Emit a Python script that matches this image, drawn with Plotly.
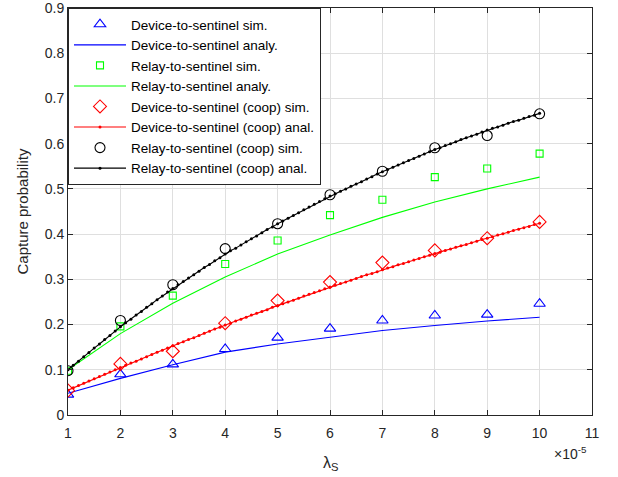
import plotly.graph_objects as go

lam = [1, 2, 3, 4, 5, 6, 7, 8, 9, 10]
lam_fine = [round(1 + 0.1 * i, 1) for i in range(91)]

dev_sim = [0.045, 0.090, 0.112, 0.146, 0.171, 0.191, 0.209, 0.220, 0.222, 0.246]
dev_ana = [0.048, 0.081, 0.111, 0.139, 0.157, 0.172, 0.187, 0.198, 0.208, 0.216]
rel_sim = [0.098, 0.196, 0.264, 0.334, 0.386, 0.442, 0.476, 0.526, 0.545, 0.578]
rel_ana = [0.100, 0.180, 0.247, 0.305, 0.356, 0.398, 0.437, 0.471, 0.500, 0.526]
devc_sim = [0.054, 0.113, 0.141, 0.203, 0.253, 0.294, 0.337, 0.364, 0.391, 0.427]
devc_ana = [
    0.055, 0.060, 0.065, 0.070, 0.075, 0.080, 0.085, 0.090, 0.095, 0.100,
    0.105, 0.110, 0.115, 0.119, 0.124, 0.129, 0.134, 0.139, 0.143, 0.148,
    0.153, 0.158, 0.162, 0.167, 0.171, 0.176, 0.181, 0.185, 0.190, 0.194,
    0.199, 0.203, 0.208, 0.212, 0.216, 0.221, 0.225, 0.229, 0.233, 0.238,
    0.242, 0.246, 0.250, 0.254, 0.258, 0.263, 0.267, 0.271, 0.275, 0.279,
    0.283, 0.287, 0.291, 0.294, 0.298, 0.302, 0.306, 0.310, 0.313, 0.317,
    0.321, 0.325, 0.328, 0.332, 0.335, 0.339, 0.343, 0.346, 0.350, 0.353,
    0.357, 0.360, 0.364, 0.367, 0.371, 0.374, 0.377, 0.381, 0.384, 0.388,
    0.391, 0.394, 0.398, 0.401, 0.404, 0.408, 0.411, 0.414, 0.417, 0.421,
    0.424,
]
relc_sim = [0.098, 0.209, 0.288, 0.368, 0.423, 0.487, 0.539, 0.591, 0.618, 0.666]
relc_ana = [
    0.100, 0.110, 0.119, 0.129, 0.138, 0.148, 0.157, 0.167, 0.176, 0.186,
    0.195, 0.204, 0.212, 0.221, 0.229, 0.238, 0.246, 0.255, 0.263, 0.272,
    0.280, 0.288, 0.295, 0.303, 0.310, 0.318, 0.326, 0.333, 0.341, 0.348,
    0.356, 0.363, 0.369, 0.376, 0.383, 0.390, 0.396, 0.403, 0.410, 0.416,
    0.423, 0.429, 0.435, 0.441, 0.447, 0.454, 0.460, 0.466, 0.472, 0.478,
    0.484, 0.489, 0.495, 0.500, 0.506, 0.511, 0.516, 0.522, 0.527, 0.533,
    0.538, 0.543, 0.548, 0.553, 0.558, 0.563, 0.567, 0.572, 0.577, 0.582,
    0.587, 0.591, 0.596, 0.600, 0.604, 0.609, 0.613, 0.617, 0.621, 0.626,
    0.630, 0.634, 0.637, 0.641, 0.645, 0.649, 0.652, 0.656, 0.660, 0.663,
    0.667,
]

x_ticks = [1, 2, 3, 4, 5, 6, 7, 8, 9, 10, 11]
y_ticks = [0, 0.1, 0.2, 0.3, 0.4, 0.5, 0.6, 0.7, 0.8, 0.9]
y_tick_text = ["0", "0.1", "0.2", "0.3", "0.4", "0.5", "0.6", "0.7", "0.8", "0.9"]

BLUE, GREEN, RED, BLACK = "#0000ff", "#00ff00", "#ff0000", "#000000"
AX = "#262626"

fig = go.Figure()
fig.add_trace(go.Scatter(x=lam, y=dev_sim, mode="markers", name="Device-to-sentinel sim.",
                         marker=dict(symbol="triangle-up-open", size=10, color=BLUE, line=dict(width=1.1, color=BLUE))))
fig.add_trace(go.Scatter(x=lam, y=dev_ana, mode="lines", name="Device-to-sentinel analy.",
                         line=dict(color=BLUE, width=1.1)))
fig.add_trace(go.Scatter(x=lam, y=rel_sim, mode="markers", name="Relay-to-sentinel sim.",
                         marker=dict(symbol="square-open", size=7, color=GREEN, line=dict(width=1.1, color=GREEN))))
fig.add_trace(go.Scatter(x=lam, y=rel_ana, mode="lines", name="Relay-to-sentinel analy.",
                         line=dict(color=GREEN, width=1.1)))
fig.add_trace(go.Scatter(x=lam, y=devc_sim, mode="markers", name="Device-to-sentinel (coop) sim.",
                         marker=dict(symbol="diamond-open", size=10, color=RED, line=dict(width=1.1, color=RED))))
fig.add_trace(go.Scatter(x=lam_fine, y=devc_ana, mode="lines+markers", name="Device-to-sentinel (coop) anal.",
                         line=dict(color=RED, width=1.1), marker=dict(symbol="circle", size=3, color=RED)))
fig.add_trace(go.Scatter(x=lam, y=relc_sim, mode="markers", name="Relay-to-sentinel (coop) sim.",
                         marker=dict(symbol="circle-open", size=10, color=BLACK, line=dict(width=1.1, color=BLACK))))
fig.add_trace(go.Scatter(x=lam_fine, y=relc_ana, mode="lines+markers", name="Relay-to-sentinel (coop) anal.",
                         line=dict(color=BLACK, width=1.1), marker=dict(symbol="circle", size=3, color=BLACK)))

fig.update_layout(
    width=618, height=477,
    margin=dict(l=68, r=26, t=8, b=62, autoexpand=False),
    paper_bgcolor="white", plot_bgcolor="white",
    font=dict(family="Liberation Sans, Arial, sans-serif", size=14, color=AX),
    showlegend=True,
    legend=dict(x=0, y=1, xanchor="left", yanchor="top", bgcolor="white",
                bordercolor=AX, borderwidth=1, font=dict(size=13.5, color="#000000"),
                itemwidth=52, tracegroupgap=0),
    xaxis=dict(range=[1, 11], tickvals=x_ticks, ticks="inside", ticklen=5, tickcolor=AX,
               showline=True, linecolor=AX, linewidth=1, mirror="ticks", automargin=False,
               showgrid=True, gridcolor="#dfdfdf", gridwidth=1, zeroline=False,
               ticklabelstandoff=5, ticklabeloverflow="allow",
               tickfont=dict(size=14, color=AX)),
    yaxis=dict(range=[0, 0.9], tickvals=y_ticks, ticktext=y_tick_text, ticks="inside", ticklen=5,
               tickcolor=AX, showline=True, linecolor=AX, linewidth=1, mirror="ticks", automargin=False,
               showgrid=True, gridcolor="#dfdfdf", gridwidth=1, zeroline=False,
               ticklabeloverflow="allow",
               tickfont=dict(size=14, color=AX)),
    annotations=[
        dict(text="Capture probability", xref="paper", yref="paper", x=0, y=0.5, xshift=-46,
             xanchor="center", yanchor="middle", textangle=-90, showarrow=False,
             font=dict(size=15, color=AX)),
        dict(text="λ<sub>S</sub>", xref="paper", yref="paper", x=0.5, y=0, yshift=-37,
             xanchor="center", yanchor="top", showarrow=False, font=dict(size=16, color=AX)),
        dict(text="×10<sup>-5</sup>", xref="paper", yref="paper", x=1, y=0, yshift=-27,
             xanchor="right", xshift=-3, yanchor="top", showarrow=False, font=dict(size=14, color=AX)),
    ],
)

fig.write_html("out.html", config={"displayModeBar": False},
               post_script="document.body.style.margin='0';document.body.style.padding='0';")
